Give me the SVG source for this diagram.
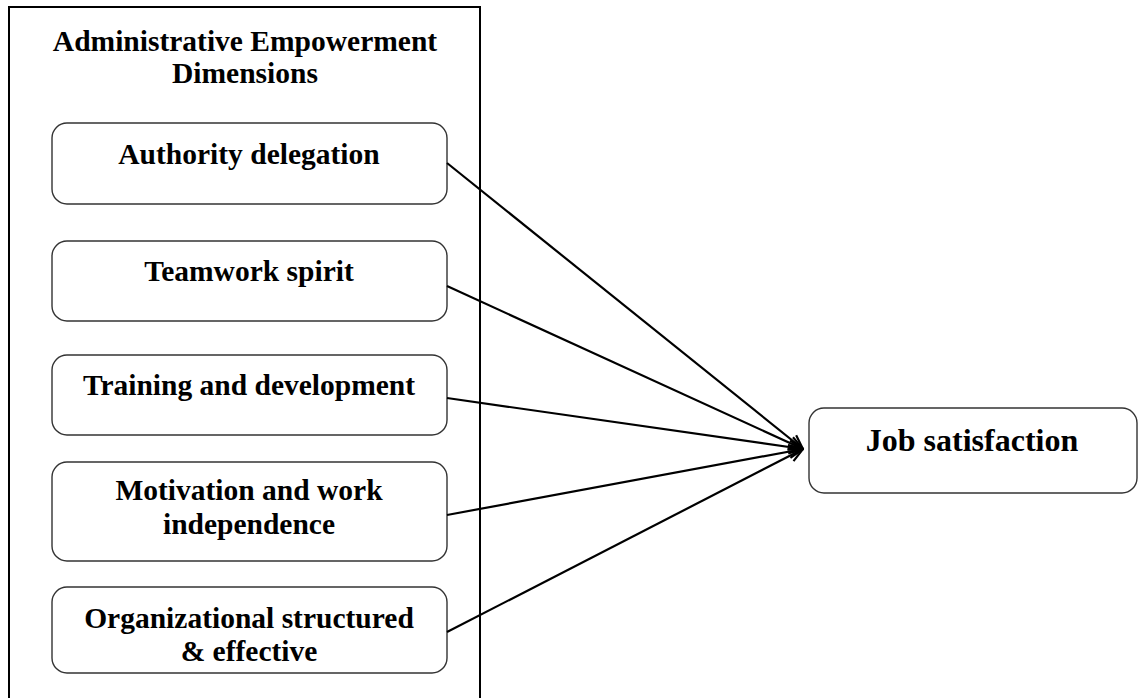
<svg xmlns="http://www.w3.org/2000/svg" width="1143" height="698" viewBox="0 0 1143 698">
<style>
.box{fill:#fff;stroke:#333;stroke-width:1.4}
.frame{fill:none;stroke:#000;stroke-width:2}
.t{font-family:"Liberation Serif","Times New Roman",serif;font-weight:bold;font-size:29.5px;fill:#000;text-anchor:middle}
.big{font-size:32px}
.c{fill:none;stroke:#000;stroke-width:2.2}
</style>
<defs>
<marker id="ah" viewBox="0 0 16 16" refX="15" refY="8" markerWidth="16" markerHeight="16" markerUnits="userSpaceOnUse" orient="auto">
<path d="M1,1.5 L15,8 L1,14.5" fill="none" stroke="#000" stroke-width="2.2"/>
</marker>
</defs>
<rect width="1143" height="698" fill="#fff"/>
<g id="frame">
<rect class="frame" x="9" y="7" width="471" height="700"/>
<text class="t" x="245" y="51">Administrative Empowerment</text>
<text class="t" x="245" y="83">Dimensions</text>
</g>
<g id="n1"><rect class="box" x="52" y="123" width="395" height="81" rx="15"/><text class="t" x="249" y="164">Authority delegation</text></g>
<g id="n2"><rect class="box" x="52" y="241" width="395" height="80" rx="15"/><text class="t" x="249" y="281">Teamwork spirit</text></g>
<g id="n3"><rect class="box" x="52" y="355" width="395" height="80" rx="15"/><text class="t" x="249" y="395">Training and development</text></g>
<g id="n4"><rect class="box" x="52" y="462" width="395" height="99" rx="15"/><text class="t" x="249" y="500">Motivation and work</text><text class="t" x="249" y="534">independence</text></g>
<g id="n5"><rect class="box" x="52" y="587" width="395" height="86" rx="15"/><text class="t" x="249" y="628">Organizational structured</text><text class="t" x="249" y="661">&amp; effective</text></g>
<g id="n6"><rect class="box" x="809" y="408" width="328" height="85" rx="15"/><text class="t big" x="972" y="451">Job satisfaction</text></g>
<g id="connectors">
<line class="c" x1="447" y1="163" x2="803" y2="449" marker-end="url(#ah)"/>
<line class="c" x1="447" y1="286" x2="803" y2="449" marker-end="url(#ah)"/>
<line class="c" x1="447" y1="398" x2="803" y2="449" marker-end="url(#ah)"/>
<line class="c" x1="447" y1="515" x2="803" y2="449" marker-end="url(#ah)"/>
<line class="c" x1="447" y1="632" x2="803" y2="449" marker-end="url(#ah)"/>
</g>
</svg>
